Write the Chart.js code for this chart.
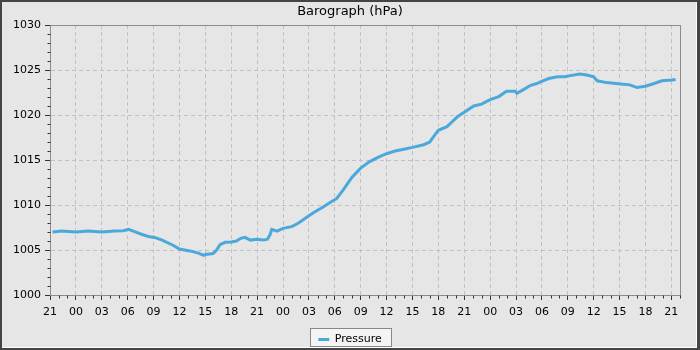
<!DOCTYPE html>
<html lang="en">
<head>
    <meta charset="UTF-8">
    <title>Barograph</title>
    <script src="https://cdn.jsdelivr.net/npm/chart.js"></script>
    <style>
        html, body { margin: 0; padding: 0; background: #444; }
        canvas { display: block; }
    </style>
</head>
<body>
    <canvas id="baroChart" width="700" height="350"></canvas>

    <script>
        // Hours counted from 21:00 on the first day
        const hoursSinceStart = [
            0.3, 1.3, 3, 4.4, 6, 7.5, 8.5, 9.1, 9.8, 10.6,
            11.4, 12.1, 13, 14.3, 15, 16.2, 17.2, 17.8, 18, 18.9,
            19.3, 19.7, 20.3, 21, 21.6, 22.1, 22.6, 23.2, 24, 24.7,
            25.2, 25.5, 25.7, 26.3, 27, 28, 28.8, 30, 30.7, 31.7,
            32.5, 33.2, 34, 35, 36, 37, 38, 39, 40, 41,
            42, 43.3, 44, 44.6, 45, 46, 46.6, 47.2, 48, 49.1,
            50, 51, 52, 52.9, 53.9, 54.1, 54.9, 55.7, 56.4, 57.1,
            57.8, 58.8, 59.7, 60.1, 61.4, 62.2, 63, 63.4, 64.5, 66.1,
            67.2, 68, 69, 70, 70.9, 72.1, 72.5
        ];
        const pressure = [
            1007.0, 1007.1, 1007.0, 1007.1, 1007.0, 1007.1, 1007.15, 1007.3, 1007.05, 1006.75,
            1006.5, 1006.4, 1006.1, 1005.5, 1005.1, 1004.9, 1004.65, 1004.4, 1004.5, 1004.6,
            1005.0, 1005.6, 1005.85, 1005.9, 1006.0, 1006.3, 1006.4, 1006.1, 1006.2, 1006.1,
            1006.2, 1006.7, 1007.3, 1007.1, 1007.4, 1007.6, 1008.0, 1008.8, 1009.25, 1009.8,
            1010.3, 1010.7, 1011.7, 1013.1, 1014.1, 1014.8, 1015.3, 1015.7, 1016.0, 1016.2,
            1016.4, 1016.7, 1017.0, 1017.8, 1018.3, 1018.7, 1019.25, 1019.8, 1020.3, 1021.0,
            1021.2, 1021.7, 1022.05, 1022.65, 1022.65, 1022.4, 1022.85, 1023.3, 1023.5, 1023.8,
            1024.05, 1024.25, 1024.25, 1024.35, 1024.55, 1024.45, 1024.25, 1023.8, 1023.6, 1023.45,
            1023.35, 1023.05, 1023.2, 1023.5, 1023.8, 1023.9, 1023.95
        ];
        // one label every 3 hours
        const xTickLabels = [
            '21', '00', '03', '06', '09', '12', '15', '18',
            '21', '00', '03', '06', '09', '12', '15', '18',
            '21', '00', '03', '06', '09', '12', '15', '18', '21'
        ];
        const seriesName = 'Pressure';
        const chartTitle = 'Barograph (hPa)';

        const lineColor = '#4ba8db';
        const bgColor = '#e6e6e6';
        const gridColor = '#c2c2c2';
        const frameColor = '#8c8c8c';
        const tickColor = '#333';

        Chart.defaults.font.family = 'DejaVu Sans';
        Chart.defaults.font.size = 11;
        Chart.defaults.color = '#000';

        // background, outer frame, legend box, plot frame and minor ticks
        const framePlugin = {
            id: 'frame',
            beforeDraw(chart) {
                const ctx = chart.ctx, w = chart.width, h = chart.height;
                ctx.save();
                ctx.fillStyle = '#444';
                ctx.fillRect(0, 0, w, h);
                ctx.fillStyle = '#fff';
                ctx.fillRect(2, 2, w - 5, h - 4);
                ctx.fillStyle = bgColor;
                ctx.fillRect(2, 2, w - 6, h - 5);

                const lg = chart.legend;
                if (lg && lg.legendHitBoxes && lg.legendHitBoxes.length) {
                    const hb = lg.legendHitBoxes[0];
                    const x0 = Math.round(hb.left) - 7.5;
                    const x1 = Math.round(hb.left + hb.width) + 9.5;
                    const y0 = Math.round(hb.top) - 5.5;
                    const y1 = Math.min(Math.round(hb.top + hb.height) + 3.5, h - 3.5);
                    ctx.fillStyle = '#f4f4f4';
                    ctx.fillRect(x0, y0, x1 - x0, y1 - y0);
                    ctx.strokeStyle = '#888';
                    ctx.lineWidth = 1;
                    ctx.strokeRect(x0, y0, x1 - x0, y1 - y0);
                }
                ctx.restore();
            },
            afterDraw(chart) {
                const ctx = chart.ctx, a = chart.chartArea;
                const xs = chart.scales.x, ys = chart.scales.y;
                ctx.save();
                ctx.lineWidth = 1;
                ctx.strokeStyle = frameColor;
                const l = Math.round(a.left) + 0.5, r = Math.round(a.right) + 0.5;
                const t = Math.round(a.top) + 0.5, b = Math.round(a.bottom) + 0.5;
                ctx.strokeRect(l, t, r - l, b - t);

                ctx.strokeStyle = tickColor;
                ctx.beginPath();
                xs.ticks.forEach(tk => {
                    if (Math.round(tk.value) % 3 === 0) return;
                    const px = Math.round(xs.getPixelForValue(tk.value)) + 0.5;
                    ctx.moveTo(px, b);
                    ctx.lineTo(px, b + 3);
                });
                ys.ticks.forEach(tk => {
                    if (Math.round(tk.value) % 5 === 0) return;
                    const py = Math.round(ys.getPixelForValue(tk.value)) + 0.5;
                    ctx.moveTo(l - 3, py);
                    ctx.lineTo(l, py);
                });
                ctx.stroke();
                ctx.restore();
            }
        };

        const isMajorX = c => c.tick && Math.round(c.tick.value) % 3 === 0;
        const isMajorY = c => c.tick && Math.round(c.tick.value) % 5 === 0;

        new Chart(document.getElementById('baroChart'), {
            type: 'line',
            data: {
                datasets: [{
                    label: seriesName,
                    data: hoursSinceStart.map((hr, i) => ({ x: hr, y: pressure[i] })),
                    borderColor: lineColor,
                    backgroundColor: lineColor,
                    borderWidth: 3,
                    pointRadius: 0,
                    tension: 0,
                    fill: false
                }]
            },
            options: {
                responsive: false,
                animation: false,
                devicePixelRatio: 1,
                layout: { padding: { left: 0, right: 0, top: 0.4, bottom: -5 } },
                plugins: {
                    title: {
                        display: true,
                        text: chartTitle,
                        color: '#000',
                        font: { size: 13, weight: 'normal' },
                        padding: { top: 3.5, bottom: 5.5 }
                    },
                    legend: {
                        position: 'bottom',
                        labels: {
                            boxWidth: 11,
                            boxHeight: 3,
                            padding: 4,
                            color: '#000',
                            generateLabels: chart => Chart.defaults.plugins.legend.labels.generateLabels(chart)
                                .map(item => ({ ...item, lineWidth: 0, strokeStyle: 'rgba(0,0,0,0)', fillStyle: lineColor }))
                        }
                    },
                    tooltip: { enabled: false }
                },
                scales: {
                    x: {
                        type: 'linear',
                        min: 0,
                        max: 73,
                        afterFit: s => { s.height = 35; s.paddingRight = 20; },
                        ticks: {
                            stepSize: 1,
                            autoSkip: false,
                            maxRotation: 0,
                            padding: 6,
                            color: '#000',
                            callback: v => Math.round(v) % 3 === 0 ? xTickLabels[Math.round(v) / 3] : ''
                        },
                        grid: {
                            color: c => isMajorX(c) ? gridColor : 'rgba(0,0,0,0)',
                            tickColor: c => isMajorX(c) ? tickColor : 'rgba(0,0,0,0)',
                            tickLength: 5
                        },
                        border: { color: frameColor, dash: [4, 3] }
                    },
                    y: {
                        min: 1000,
                        max: 1030,
                        afterFit: s => { s.width = 50; },
                        ticks: {
                            stepSize: 1,
                            autoSkip: false,
                            padding: 4,
                            color: '#000',
                            callback: v => Math.round(v) % 5 === 0 ? String(v) : ''
                        },
                        grid: {
                            color: c => isMajorY(c) ? gridColor : 'rgba(0,0,0,0)',
                            tickColor: c => isMajorY(c) ? tickColor : 'rgba(0,0,0,0)',
                            tickLength: 5
                        },
                        border: { color: frameColor, dash: [4, 3] }
                    }
                }
            },
            plugins: [framePlugin]
        });
    </script>
</body>
</html>
